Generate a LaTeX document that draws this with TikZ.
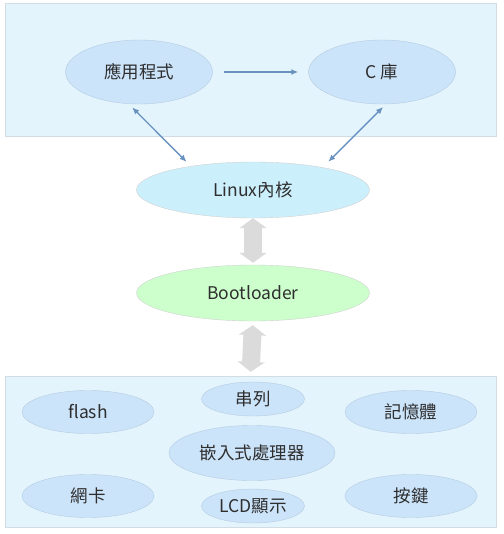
\documentclass[tikz,border=0pt]{standalone}
\usepackage{fontspec}
\setmainfont{Noto Sans CJK TC}
\usetikzlibrary{positioning,
        shapes.geometric,
        arrows.meta}
\usepackage{xcolor}
\definecolor{panelfill}{HTML}{E4F4FD}
\definecolor{panelline}{HTML}{D2DCE4}
\definecolor{partfill}{HTML}{CCE4FA}
\definecolor{partline}{HTML}{B4CCE2}
\definecolor{linkblue}{HTML}{6A92C0}
\definecolor{textgray}{HTML}{2E2E2E}

\begin{document}
\begin{tikzpicture}[x=1pt,y=-1pt,
        font=\fontsize{17.5}{20}\selectfont,
        panel/.style={rectangle,draw=panelline,fill=panelfill,inner sep=0pt},
        part/.style={ellipse,draw=partline,fill=partfill,inner sep=0pt,
                minimum width=147pt,minimum height=64pt,text=textgray},
        device/.style={part,minimum width=132pt,minimum height=43pt},
        smalldevice/.style={part,minimum width=103pt,minimum height=34pt},
        link/.style={linkblue,line width=1.4pt},
        fatarrow/.style={black!14,line width=18pt,
                {Triangle[width=27pt,length=10pt]}-{Triangle[width=27pt,length=10pt]}}]
            \useasboundingbox (0,0) rectangle (503,534);
            % user space
            \node [panel,minimum width=491pt,minimum height=133pt] (userspace) at (250.5,69.5) {};
            \node [part] (app) at (139,72) {應用程式};
            \node [part] (clib) at (382,72) {C 庫};
            % kernel and boot
            \node [part,fill=cyan!20,draw=black!18,minimum width=233pt,minimum height=56pt] (linux) at (253,190) {Linux內核};
            \node [part,fill=green!20,draw=black!18,minimum width=233pt,minimum height=56pt] (boot) at (253,293) {Bootloader};
            % hardware
            \node [panel,minimum width=491pt,minimum height=151pt] (hardware) at (250.5,451.5) {};
            \node [device] (flash) at (88,412) {flash};
            \node [smalldevice] (serial) at (253,399) {串列};
            \node [device] (memory) at (411,412) {記憶體};
            \node [part,minimum width=166pt,minimum height=55pt] (cpu) at (252,453) {嵌入式處理器};
            \node [device] (netcard) at (88,496) {網卡};
            \node [smalldevice] (lcd) at (253,506) {LCD顯示};
            \node [device] (keys) at (411,496) {按鍵};

            \draw [link,-{Latex[length=7pt,width=6pt]},shorten <=11pt,shorten >=10pt] (app.east) -- (clib.west);
            \draw [link,{Latex[length=7pt,width=6pt]}-{Latex[length=7pt,width=6pt]},shorten <=5pt,shorten >=6pt] (app.-108) -- (linux.159);
            \draw [link,{Latex[length=7pt,width=6pt]}-{Latex[length=7pt,width=6pt]},shorten <=4pt,shorten >=8pt] (clib.-83) -- (linux.18);
            \draw [fatarrow,shorten <=0pt,shorten >=2pt] (linux.south) -- (boot.north);
            \draw [fatarrow,shorten <=4pt,shorten >=4pt] (boot.south) -- (hardware.north);
        \end{tikzpicture}
\end{document}
